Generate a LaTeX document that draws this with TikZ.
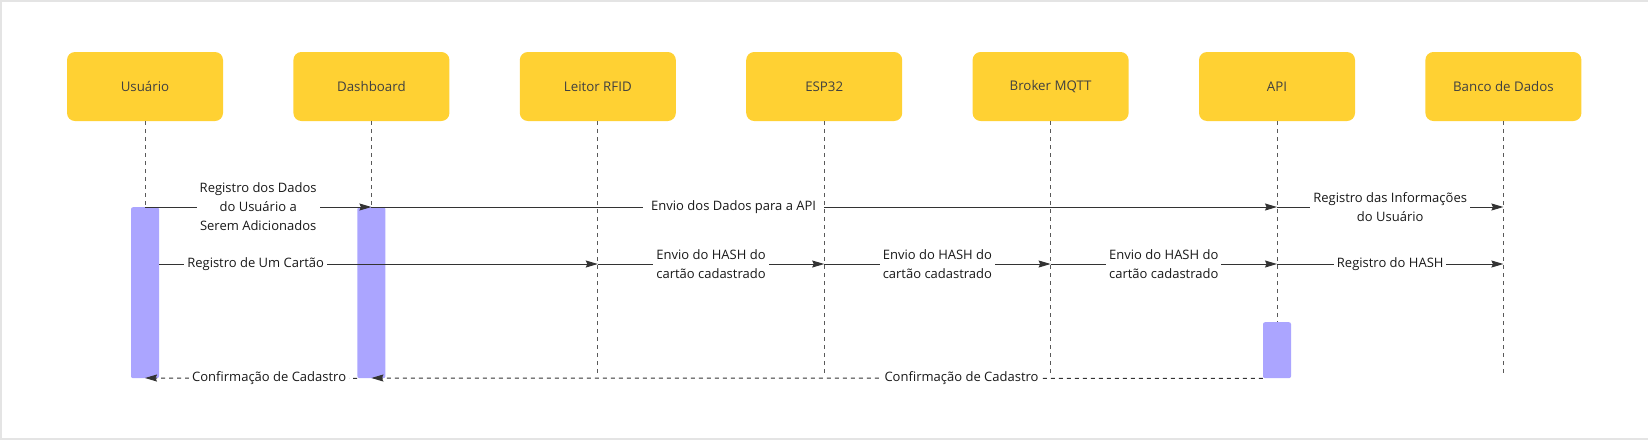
\documentclass[tikz,border=0pt]{standalone}
\usepackage{fontspec}
\setmainfont{Open Sans}
\usetikzlibrary{positioning,arrows.meta}
\definecolor{boxyellow}{HTML}{FFD133}
\definecolor{barpurple}{HTML}{ABA5FF}
\definecolor{framegray}{HTML}{E4E4E4}
\tikzset{
  actor/.style={fill=boxyellow, rounded corners=8pt, minimum width=156pt, minimum height=69pt,
    text=black!75, font=\fontsize{13.3}{16}\selectfont},
  lifeline/.style={draw=black!65, line width=0.9pt, dash pattern=on 4pt off 4pt},
  activation/.style={fill=barpurple, rounded corners=2pt, minimum width=28pt, inner sep=0pt, anchor=north},
  msg/.style={draw=black!80, line width=1pt, -{Stealth[length=12pt,width=7pt,inset=1.5pt]}},
  reply/.style={msg, dash pattern=on 4pt off 4pt},
  lbl/.style={fill=white, align=center, inner xsep=3pt, inner ysep=1pt, text=black!90,
    font=\fontsize{13}{19}\selectfont}
}
\begin{document}
\begin{tikzpicture}[x=1pt,y=-1pt]
\useasboundingbox (0,0) rectangle (1648,440);
\draw[framegray, line width=2pt] (1648,1) -- (1,1) -- (1,439) -- (1648,439);

\node[actor] (usuario) at (145,86.5) {Usuário};
\node[actor, right=70pt of usuario] (dashboard) {Dashboard};
\node[actor, right=70pt of dashboard] (leitor) {Leitor RFID};
\node[actor, right=70pt of leitor] (esp) {ESP32};
\node[actor, right=70pt of esp] (broker) {Broker MQTT};
\node[actor, right=70pt of broker] (api) {API};
\node[actor, right=70pt of api] (banco) {Banco de Dados};

\coordinate (m1) at (0,207);
\coordinate (m2) at (0,264);
\coordinate (m3) at (0,378);
\coordinate (tail) at (0,375);

\foreach \n in {usuario,dashboard,leitor,esp,broker,api,banco}
  \draw[lifeline] (\n.south) -- (\n.south |- tail);

\node[activation, minimum height=171pt] (barusuario) at (usuario.south |- m1) {};
\node[activation, minimum height=171pt] (bardashboard) at (dashboard.south |- m1) {};
\node[activation, minimum height=56pt] (barapi) at (api.south |- 0,322) {};

\draw[msg] (usuario.south |- m1) -- node[lbl] {Registro dos Dados\\do Usuário a\\Serem Adicionados} (dashboard.south |- m1);
\draw[msg] (dashboard.south |- m1) -- node[lbl, pos=0.4, inner xsep=8pt] {Envio dos Dados para a API} (api.south |- m1);
\draw[msg] (api.south |- m1) -- node[lbl] {Registro das Informações\\do Usuário} (banco.south |- m1);

\draw[msg] (barusuario.east |- m2) -- node[lbl, pos=0.22] {Registro de Um Cartão} (leitor.south |- m2);
\draw[msg] (leitor.south |- m2) -- node[lbl] {Envio do HASH do\\cartão cadastrado} (esp.south |- m2);
\draw[msg] (esp.south |- m2) -- node[lbl] {Envio do HASH do\\cartão cadastrado} (broker.south |- m2);
\draw[msg] (broker.south |- m2) -- node[lbl] {Envio do HASH do\\cartão cadastrado} (api.south |- m2);
\draw[msg] (api.south |- m2) -- node[lbl] {Registro do HASH} (banco.south |- m2);

\draw[reply] (barapi.south west) -- node[lbl, pos=0.338] {Confirmação de Cadastro} (dashboard.south |- m3);
\draw[reply] (bardashboard.south west) -- node[lbl, pos=0.415] {Confirmação de Cadastro} (usuario.south |- m3);
\end{tikzpicture}
\end{document}
